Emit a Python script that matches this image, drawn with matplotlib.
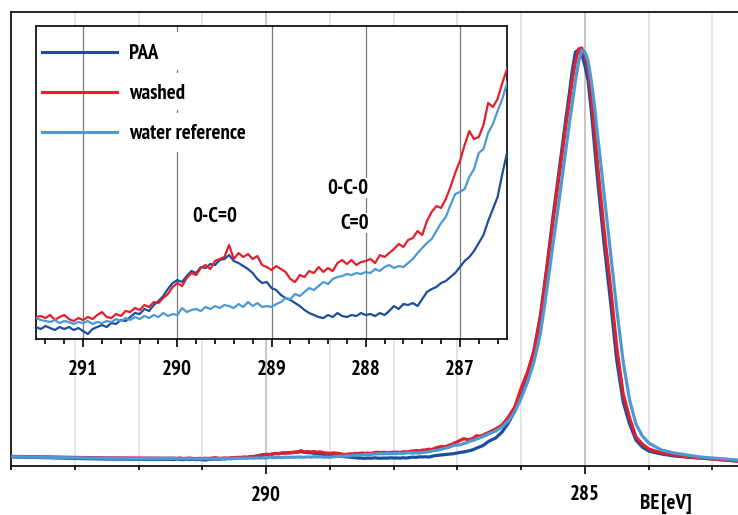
import numpy as np
import matplotlib.pyplot as plt
from matplotlib.ticker import MultipleLocator
from matplotlib.patches import Rectangle

plt.rcParams['font.family'] = ['PT Sans Narrow', 'DejaVu Sans']
plt.rcParams['font.weight'] = 'bold'

# binding energy grid [eV] (left tail, zoomed window, C1s peak)
be_left = [294.0, 293.5, 293.0, 292.5, 292.0, 291.75]
be_mid = np.linspace(291.5, 286.5, 101)
be_right = [286.4, 286.3, 286.2, 286.1, 286.0, 285.9, 285.8, 285.7, 285.6, 285.5,
            285.4, 285.3, 285.25, 285.2, 285.15, 285.1, 285.05, 285.0, 284.95, 284.9,
            284.85, 284.8, 284.7, 284.6, 284.5, 284.4, 284.3, 284.2, 284.1, 284.0,
            283.8, 283.6, 283.4, 283.2, 283.0, 282.6]

# intensities (arb. units)
paa_left = [34, 28, 20, 14, 12, 12]
paa_mid = [12, 10, 13, 11, 9, 12, 10, 12, 9, 11, 8,
           5, 10, 12, 14, 12, 16, 15, 19, 18, 22,
           26, 25, 30, 28, 34, 38, 43, 50, 56, 59,
           57, 63, 68, 66, 72, 71, 75, 74, 79, 80,
           84, 78, 76, 73, 70, 66, 60, 56, 57, 51,
           49, 44, 41, 39, 36, 33, 29, 26, 24, 22,
           21, 24, 22, 26, 23, 22, 24, 23, 26, 24,
           25, 23, 26, 24, 28, 33, 30, 35, 34, 36,
           33, 40, 47, 50, 52, 56, 58, 62, 66, 72,
           78, 82, 88, 96, 104, 118, 130, 142, 165, 186]
paa_right = [214, 271, 357, 471, 642, 822, 1040, 1373, 1829, 2323,
             2779, 3245, 3463, 3700, 3881, 3900, 3862, 3748, 3606, 3320,
             2988, 2656, 2057, 1516, 946, 556, 347, 195, 128, 90,
             62, 43, 34, 24, 15, -5]

washed_left = [40, 36, 30, 26, 24, 22]
washed_mid = [22, 23, 21, 24, 19, 22, 24, 20, 18, 21, 19,
              22, 20, 24, 27, 22, 21, 25, 23, 28, 27,
              31, 29, 34, 32, 37, 36, 41, 45, 52, 56,
              53, 61, 66, 64, 71, 74, 70, 78, 80, 82,
              94, 80, 86, 82, 85, 80, 83, 74, 72, 69,
              73, 70, 67, 60, 57, 64, 62, 68, 66, 72,
              67, 71, 68, 76, 79, 75, 79, 74, 77, 78,
              80, 76, 84, 82, 86, 90, 95, 92, 99, 101,
              108, 104, 118, 127, 133, 131, 140, 152, 166, 178,
              194, 208, 200, 202, 214, 236, 232, 240, 256, 270]
washed_right = [300, 338, 414, 509, 689, 841, 1040, 1354, 1800, 2275,
                2722, 3178, 3387, 3606, 3786, 3910, 3919, 3843, 3729, 3463,
                3130, 2798, 2190, 1658, 1069, 632, 404, 224, 157, 110,
                72, 53, 34, 24, 15, -5]

water_left = [36, 32, 26, 22, 20, 21]
water_mid = [21, 19, 18, 17, 19, 16, 18, 17, 15, 17, 16,
             18, 15, 17, 16, 18, 17, 20, 18, 21, 19,
             22, 20, 23, 21, 24, 22, 26, 23, 25, 24,
             31, 27, 29, 30, 28, 32, 30, 33, 31, 34,
             33, 31, 35, 32, 37, 33, 36, 32, 33, 32,
             35, 37, 41, 40, 45, 43, 47, 51, 49, 53,
             57, 55, 60, 62, 63, 65, 64, 66, 65, 67,
             66, 70, 68, 72, 74, 71, 73, 72, 76, 80,
             86, 91, 96, 100, 108, 116, 122, 134, 145, 147,
             150, 162, 170, 186, 190, 206, 215, 228, 240, 256]
water_right = [281, 319, 376, 461, 594, 746, 936, 1202, 1611, 2057,
               2494, 2950, 3178, 3387, 3606, 3786, 3900, 3881, 3796, 3606,
               3368, 3083, 2532, 1981, 1430, 936, 575, 347, 233, 167,
               100, 72, 53, 34, 24, 5]

labels = ['PAA', 'washed', 'water reference']
colors = ['#1b4f9c', '#e41f2b', '#4b9ad4']

be = np.concatenate([be_left, be_mid, be_right])
series = [np.concatenate([paa_left, paa_mid, paa_right]),
          np.concatenate([washed_left, washed_mid, washed_right]),
          np.concatenate([water_left, water_mid, water_right])]

fs = 15
fig = plt.figure(figsize=(7.38, 5.15), dpi=100)

# main spectrum
ax = fig.add_axes([0.0149, 0.0951, 0.9851, 0.8816])
for y, c in zip(series, colors):
    ax.plot(be, y, color=c, lw=2.3, zorder=3)
ax.set_xlim(294, 282.6)
ax.set_ylim(-52, 4261)
ax.xaxis.set_major_locator(MultipleLocator(5))
ax.xaxis.set_minor_locator(MultipleLocator(1))
ax.grid(which='minor', axis='x', color='#e2e2e2', lw=1.3)
ax.grid(which='major', axis='x', color='#c4c4c4', lw=1.3)
ax.set_yticks([])
ax.spines['right'].set_visible(False)
for s in ['left', 'bottom', 'top']:
    ax.spines[s].set_linewidth(1.2)
ax.tick_params(axis='x', which='major', length=6, width=1.2, pad=8, labelsize=fs)
ax.tick_params(axis='x', which='minor', length=3.2, width=1.2)

fig.text(640 / 738, 1 - 494 / 515, 'BE', fontsize=fs, style='italic', va='top')
fig.text(661 / 738, 1 - 494 / 515, '[eV]', fontsize=fs, va='top')

# zoomed inset
ins = fig.add_axes([0.0488, 0.3417, 0.6382, 0.6078])
for y, c, lab in zip(series, colors, labels):
    ins.plot(be, y, color=c, lw=1.6, label=lab, zorder=3)
ins.set_xlim(291.5, 286.5)
ins.set_ylim(0, 313)
ins.xaxis.set_major_locator(MultipleLocator(1))
ins.xaxis.set_minor_locator(MultipleLocator(0.2))
ins.grid(which='major', axis='x', color='#7a7a7a', lw=0.9)
ins.set_yticks([])
for s in ins.spines.values():
    s.set_linewidth(1.2)
ins.tick_params(axis='x', which='major', length=6, width=1.2, pad=9, labelsize=fs)
ins.tick_params(axis='x', which='minor', length=3.6, width=1.2)

# white bands behind the legend text
for y0, h in [(0.859, 0.122), (0.732, 0.118), (0.597, 0.125)]:
    ins.add_patch(Rectangle((0.195, y0), 0.26, h, transform=ins.transAxes,
                            fc='white', ec='none', zorder=1.6))

leg = ins.legend(loc='upper left', bbox_to_anchor=(0.0127, 0.942), frameon=False,
                 borderpad=0, borderaxespad=0, handlelength=3.6, handletextpad=0.6,
                 labelspacing=1.0, fontsize=fs)
for line in leg.get_lines():
    line.set_linewidth(2.2)

box = dict(facecolor='white', edgecolor='none', pad=0.5)
ins.text(289.606, 123, '0-C=0', fontsize=fs, ha='center', va='center', bbox=box, zorder=2)
ins.text(288.19, 151, '0-C-0', fontsize=fs, ha='center', va='center', bbox=box, zorder=2)
ins.text(288.12, 116, 'C=0', fontsize=fs, ha='center', va='center', bbox=box, zorder=2)

fig.savefig('out.png', dpi=100)
